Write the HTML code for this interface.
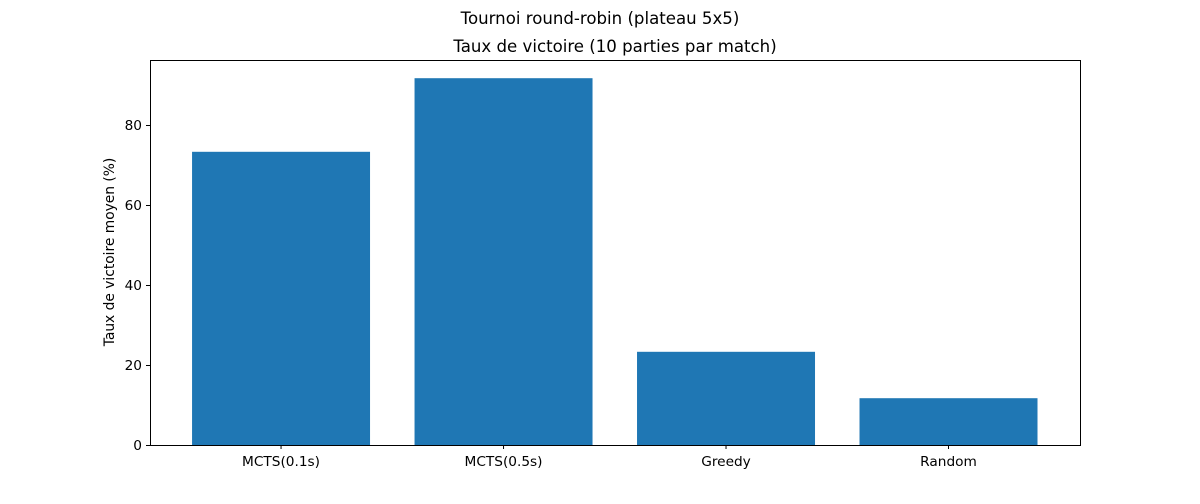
<!DOCTYPE html>
<html><head><meta charset="utf-8"><style>
body{margin:0;background:#fff;font-family:"DejaVu Sans","Liberation Sans",sans-serif;}
</style></head><body>
<svg id="chart" width="1200" height="500" xmlns="http://www.w3.org/2000/svg" font-family="DejaVu Sans, Liberation Sans, sans-serif">
<rect width="1200" height="500" fill="#fff"/>
<text x="600" y="24" text-anchor="middle" font-size="16.6" fill="#000">Tournoi round-robin (plateau 5x5)</text>
<text x="615" y="52" text-anchor="middle" font-size="16.6" fill="#000">Taux de victoire (10 parties par match)</text>
<text transform="translate(114,252) rotate(-90)" text-anchor="middle" font-size="13.8" fill="#000">Taux de victoire moyen (%)</text>
<g id="marks"></g>
<rect x="150.5" y="60.5" width="930" height="385" fill="none" stroke="#000" stroke-width="1"/>
</svg>
<script>
const categories = ["MCTS(0.1s)", "MCTS(0.5s)", "Greedy", "Random"];
const values = [73.3, 91.7, 23.3, 11.7];
const yTicks = [0, 20, 40, 60, 80];

const L=150, R=1080, T=60, B=445;
const yMax=96.25, xMin=-0.589, xMax=3.591;
const y = v => B - v/yMax*(B-T);
const x = i => L + (i-xMin)/(xMax-xMin)*(R-L);
const NS="http://www.w3.org/2000/svg";
const g=document.getElementById('marks');
function mk(tag,attrs){const e=document.createElementNS(NS,tag);for(const k in attrs)e.setAttribute(k,attrs[k]);g.appendChild(e);return e;}
const bw = x(0.8)-x(0);
values.forEach((v,i)=>{
  const r=mk('rect',{x:x(i)-bw/2,y:y(v),width:bw,height:B-y(v),fill:'#1f77b4'});
  
  
  const t=mk('line',{x1:x(i),x2:x(i),y1:B,y2:B+4,stroke:'#000'});
  
  
  const l=mk('text',{x:x(i),y:B+21,'text-anchor':'middle','font-size':13.7,fill:'#000'});
  l.textContent=categories[i];
  
  
});
yTicks.forEach(v=>{
  const t=mk('line',{x1:L-4,x2:L,y1:y(v)+0.5,y2:y(v)+0.5,stroke:'#000'});
  
  
  const l=mk('text',{x:L-8,y:y(v)+5,'text-anchor':'end','font-size':13.7,fill:'#000'});
  l.textContent=v;
  
  
});
</script>
</body></html>
